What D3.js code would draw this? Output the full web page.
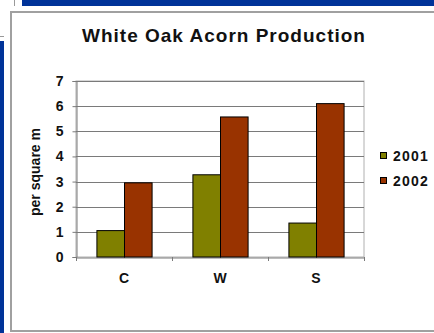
<!DOCTYPE html>
<html><head><meta charset="utf-8">
<script src="https://cdn.jsdelivr.net/npm/d3@7"></script>
<style>html,body{margin:0;padding:0;background:#fff;}svg{display:block;}</style>
</head><body>
<script>
const categories = ["C", "W", "S"];
const seriesNames = ["2001", "2002"];
const values2001 = [1.05, 3.27, 1.35];
const values2002 = [2.95, 5.57, 6.1];
const yTicks = [0, 1, 2, 3, 4, 5, 6, 7];
const colors = ["#808000", "#993300"];

const W = 434, H = 333;
const svg = d3.select("body").append("svg").attr("width", W).attr("height", H);
const font = "'Liberation Sans', Arial, sans-serif";

// decorations
svg.append("rect").attr("x", 22).attr("y", 0).attr("width", W - 22).attr("height", 6).attr("fill", "#003399");
svg.append("line").attr("x1", 14.5).attr("x2", 14.5).attr("y1", 0).attr("y2", 6).attr("stroke", "#999");
svg.append("rect").attr("x", 0).attr("y", 41).attr("width", 4).attr("height", H - 41).attr("fill", "#003399");
svg.append("line").attr("x1", 0).attr("x2", 4).attr("y1", 36.5).attr("y2", 36.5).attr("stroke", "#999");
svg.append("rect").attr("x", 11).attr("y", 12).attr("width", W).attr("height", 319)
  .attr("fill", "#fff").attr("stroke", "#a0a0a0").attr("stroke-width", 2);

const m = {left: 76, right: 364, top: 81, bottom: 257};
const x = d3.scaleBand().domain(categories).range([m.left, m.right]).paddingInner(0).paddingOuter(0);
const y = d3.scaleLinear().domain([0, 7]).range([m.bottom, m.top]);
const xs = d3.scaleBand().domain(seriesNames).range([0, x.bandwidth()]).paddingInner(0).paddingOuter(0.74);

// title
svg.append("text").attr("x", 224).attr("y", 42).attr("text-anchor", "middle")
  .attr("font-family", font).attr("font-weight", "bold").attr("font-size", 19)
  .attr("letter-spacing", 1.0).attr("fill", "#111").text("White Oak Acorn Production");

// plot border
svg.append("rect").attr("x", m.left).attr("y", m.top).attr("width", m.right - m.left).attr("height", m.bottom - m.top)
  .attr("fill", "none").attr("stroke", "#b0b0b0");

// gridlines
svg.append("g").selectAll("line").data(yTicks.filter(d => d > 0)).join("line")
  .attr("x1", m.left).attr("x2", m.right)
  .attr("y1", d => Math.round(y(d)) + 0.5).attr("y2", d => Math.round(y(d)) + 0.5)
  .attr("stroke", "#7a7a7a");

// y axis
const yAxis = svg.append("g").attr("transform", `translate(${m.left + 0.5},0)`)
  .call(d3.axisLeft(y).tickValues(yTicks).tickSize(4).tickPadding(9).tickFormat(d3.format("d")));
yAxis.select(".domain").attr("stroke", "#7a7a7a");
yAxis.selectAll(".tick line").attr("stroke", "#7a7a7a");
yAxis.selectAll("text").attr("font-family", font).attr("font-weight", "bold").attr("font-size", 14).attr("fill", "#111");

// x axis
const xAxis = svg.append("g").attr("transform", `translate(0,${m.bottom + 0.5})`)
  .call(d3.axisBottom(x).tickSize(0).tickPadding(16));
xAxis.select(".domain").attr("stroke", "#7a7a7a");
xAxis.selectAll("text").attr("font-family", font).attr("font-weight", "bold").attr("font-size", 14).attr("fill", "#111");
svg.append("g").selectAll("line").data(d3.range(categories.length + 1)).join("line")
  .attr("x1", i => m.left + i * x.step() + 0.5).attr("x2", i => m.left + i * x.step() + 0.5)
  .attr("y1", m.bottom).attr("y2", m.bottom + 4).attr("stroke", "#7a7a7a");

// bars
const data = categories.map((c, i) => ({c, vals: [values2001[i], values2002[i]]}));
const groups = svg.append("g").selectAll("g").data(data).join("g")
  .attr("transform", d => `translate(${x(d.c)},0)`);
groups.selectAll("rect").data(d => d.vals.map((v, j) => ({v, s: seriesNames[j], j}))).join("rect")
  .attr("x", d => xs(d.s) + 0.5).attr("width", xs.bandwidth())
  .attr("y", d => y(d.v)).attr("height", d => y(0) - y(d.v))
  .attr("fill", d => colors[d.j]).attr("stroke", "#000").attr("stroke-width", 1);

// y title
svg.append("text").attr("transform", "translate(40,172) rotate(-90)").attr("text-anchor", "middle")
  .attr("font-family", font).attr("font-weight", "bold").attr("font-size", 14).attr("fill", "#111")
  .text("per square m");

// legend
const leg = svg.append("g").selectAll("g").data(seriesNames).join("g")
  .attr("transform", (d, i) => `translate(380,${156 + i * 25})`);
leg.append("rect").attr("x", 0.5).attr("y", -3.5).attr("width", 6).attr("height", 6)
  .attr("fill", (d, i) => colors[i]).attr("stroke", "#000");
leg.append("text").attr("x", 13).attr("y", 5).attr("font-family", font).attr("font-weight", "bold")
  .attr("font-size", 14).attr("letter-spacing", 1.2).attr("fill", "#111").text(d => d);
</script>
</body></html>
